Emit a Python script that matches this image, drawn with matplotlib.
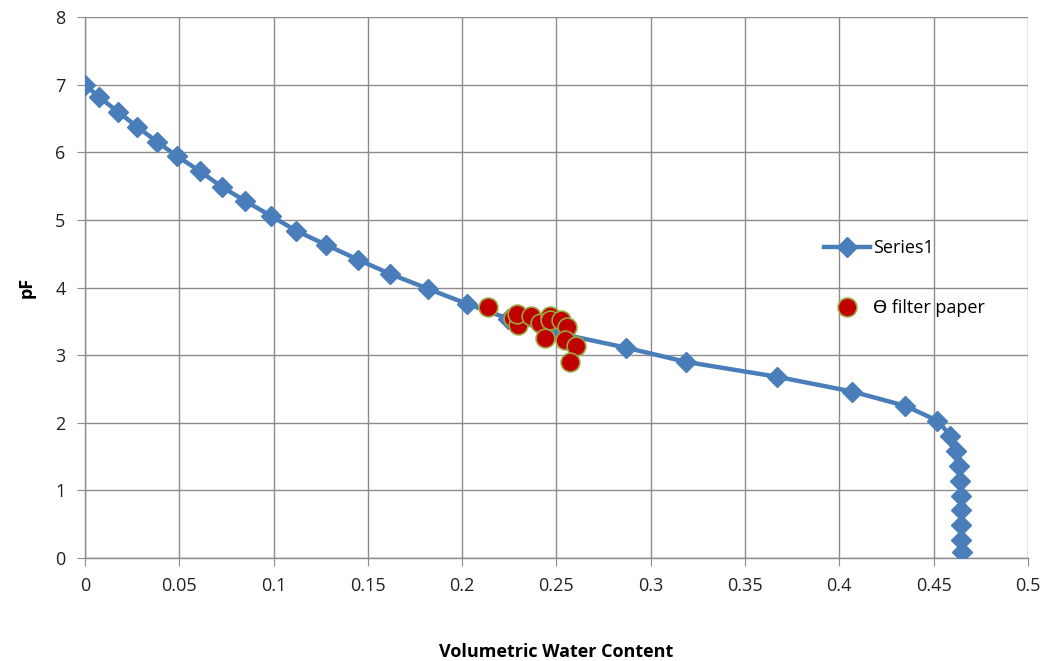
import matplotlib
matplotlib.use("Agg")
import matplotlib.pyplot as plt

# Retention curve (Series1)
theta_curve = [0.0, 0.0074, 0.0175, 0.0276, 0.038, 0.049, 0.061, 0.0726, 0.085,
               0.0986, 0.112, 0.128, 0.145, 0.162, 0.182, 0.2025, 0.2245, 0.2515,
               0.287, 0.3187, 0.367, 0.407, 0.435, 0.452, 0.459, 0.462, 0.4634,
               0.464, 0.4645, 0.4645, 0.4645, 0.4645, 0.465]
pf_curve = [7.0, 6.82, 6.6, 6.38, 6.16, 5.94, 5.72, 5.49, 5.28, 5.06, 4.84, 4.63,
            4.41, 4.2, 3.98, 3.76, 3.54, 3.32, 3.11, 2.9, 2.68, 2.46, 2.25, 2.03,
            1.81, 1.58, 1.36, 1.14, 0.92, 0.71, 0.49, 0.27, 0.08]

# Filter paper measurements
theta_fp = [0.2138, 0.227, 0.2298, 0.229, 0.2363, 0.2413, 0.2439, 0.2466, 0.2466,
            0.2527, 0.2554, 0.2545, 0.2603, 0.257]
pf_fp = [3.71, 3.55, 3.45, 3.61, 3.58, 3.47, 3.25, 3.58, 3.52, 3.52, 3.42, 3.22,
         3.14, 2.90]

x_ticks = [0, 0.05, 0.1, 0.15, 0.2, 0.25, 0.3, 0.35, 0.4, 0.45, 0.5]
x_tick_labels = ["0", "0.05", "0.1", "0.15", "0.2", "0.25", "0.3", "0.35", "0.4", "0.45", "0.5"]
y_ticks = [0, 1, 2, 3, 4, 5, 6, 7, 8]

plt.rcParams['font.family'] = ['Open Sans', 'DejaVu Sans']

fig = plt.figure(figsize=(10.52, 6.61), dpi=100)
ax = fig.add_axes([0.0808, 0.156, 0.8962, 0.818])

ax.plot(theta_curve, pf_curve, color='#4A7EBB', linewidth=3.2, marker='D',
        markersize=10, markerfacecolor='#4A7EBB', markeredgecolor='#4A7EBB',
        label='Series1', zorder=3)
ax.plot(theta_fp, pf_fp, linestyle='none', marker='o', markersize=13.5,
        markerfacecolor='#C00000', markeredgecolor='#9BA53C', markeredgewidth=1.2,
        label='ϴ filter paper', zorder=4)

ax.set_xlim(0, 0.5)
ax.set_ylim(0, 8)
ax.set_xticks(x_ticks)
ax.set_xticklabels(x_tick_labels)
ax.set_yticks(y_ticks)

ax.grid(True, color='#8C8C8C', linewidth=1.0)
ax.set_axisbelow(True)
for side in ['top', 'right']:
    ax.spines[side].set_visible(False)
for side in ['left', 'bottom']:
    ax.spines[side].set_color('#8C8C8C')
    ax.spines[side].set_linewidth(1.0)
ax.tick_params(axis='both', direction='out', length=6, color='#8C8C8C',
               labelsize=13, labelcolor='#222222', pad=8)

ax.set_xlabel('Volumetric Water Content', fontsize=13, fontweight='bold', labelpad=34)
ax.set_ylabel('pF', fontsize=13, fontweight='bold', labelpad=14)

leg = ax.legend(loc='upper left', bbox_to_anchor=(0.767, 0.62), frameon=False,
                fontsize=13, labelspacing=2.35, handlelength=2.5, handletextpad=0.2)

fig.savefig('out.png', dpi=100)
